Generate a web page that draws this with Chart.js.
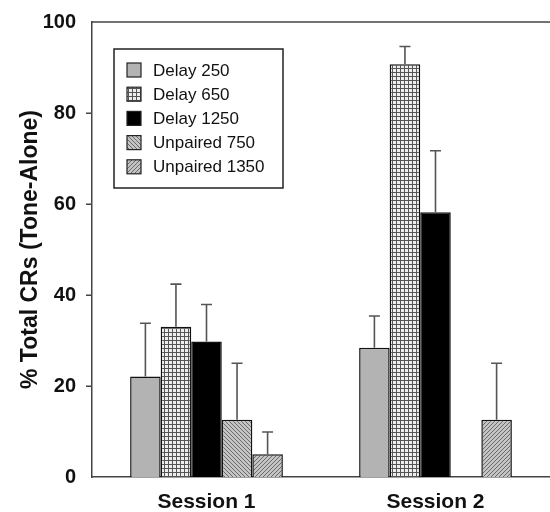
<!DOCTYPE html>
<html>
<head>
<meta charset="utf-8">
<script src="https://cdn.jsdelivr.net/npm/chart.js@4"></script>
<style>
  html, body { margin: 0; padding: 0; background: #ffffff; }
  #wrap { width: 550px; height: 512px; }
</style>
</head>
<body>
<div id="wrap"><canvas id="c" width="550" height="512"></canvas></div>
<script>
// ---- Data ----
const categories = ['Session 1', 'Session 2'];
const seriesNames = ['Delay 250', 'Delay 650', 'Delay 1250', 'Unpaired 750', 'Unpaired 1350'];
const delay250 = [22.1, 28.4];
const delay650 = [33.0, 90.7];
const delay1250 = [29.8, 58.2];
const unpaired750 = [12.6, null];
const unpaired1350 = [5.0, 12.6];
const err250 = [11.7, 7.0];
const err650 = [9.4, 3.9];
const err1250 = [8.1, 13.5];
const errU750 = [12.4, null];
const errU1350 = [4.9, 12.4];
const yTicks = [0, 20, 40, 60, 80, 100];
const yTitle = '% Total CRs (Tone-Alone)';

// ---- Fill patterns ----
function gridPattern() {
  const c = document.createElement('canvas'); c.width = 4; c.height = 4;
  const g = c.getContext('2d');
  g.fillStyle = '#eeeeee'; g.fillRect(0, 0, 4, 4);
  g.fillStyle = '#555555'; g.fillRect(0, 0, 4, 1); g.fillRect(0, 0, 1, 4);
  return g.createPattern(c, 'repeat');
}
function diagPattern(dir, bg, fg) {
  const c = document.createElement('canvas'); c.width = 4; c.height = 4;
  const g = c.getContext('2d');
  g.fillStyle = bg; g.fillRect(0, 0, 4, 4);
  g.fillStyle = fg;
  for (let i = 0; i < 4; i++) {
    g.fillRect(dir > 0 ? i : 3 - i, i, 1, 1);
  }
  return g.createPattern(c, 'repeat');
}
const fills = [
  '#b3b3b3',
  gridPattern(),
  '#000000',
  diagPattern(1, '#c4c4c4', '#6a6a6a'),
  diagPattern(-1, '#c4c4c4', '#6a6a6a')
];
const values = [delay250, delay650, delay1250, unpaired750, unpaired1350];
const errors = [err250, err650, err1250, errU750, errU1350];

const datasets = seriesNames.map((name, i) => ({
  label: name,
  data: values[i],
  backgroundColor: fills[i],
  borderColor: '#111111',
  borderWidth: 1.5,
  errors: errors[i]
}));

// ---- Plugin: error bars, y tick marks, top frame, in-plot legend ----
const extras = {
  id: 'extras',
  afterDatasetsDraw(chart) {
    const ctx = chart.ctx;
    const ys = chart.scales.y;
    chart.data.datasets.forEach((ds, di) => {
      const meta = chart.getDatasetMeta(di);
      meta.data.forEach((bar, i) => {
        const v = ds.data[i], e = ds.errors[i];
        if (v == null || e == null) return;
        const yTop = ys.getPixelForValue(v + e);
        const yBase = ys.getPixelForValue(v);
        ctx.save();
        ctx.strokeStyle = '#555555';
        ctx.lineWidth = 1.6;
        ctx.beginPath();
        ctx.moveTo(bar.x, yBase);
        ctx.lineTo(bar.x, yTop);
        ctx.moveTo(bar.x - 5.5, yTop);
        ctx.lineTo(bar.x + 5.5, yTop);
        ctx.stroke();
        ctx.restore();
      });
    });
  },
  afterDraw(chart) {
    const ctx = chart.ctx;
    const a = chart.chartArea;
    const ys = chart.scales.y;
    ctx.save();
    // y tick marks (outward), skipping the ends
    ctx.strokeStyle = '#444444';
    ctx.lineWidth = 1.5;
    ctx.beginPath();
    yTicks.forEach(v => {
      if (v === 0 || v === 100) return;
      const py = Math.round(ys.getPixelForValue(v)) + 0.25;
      ctx.moveTo(a.left - 6, py);
      ctx.lineTo(a.left, py);
    });
    // top frame line
    ctx.moveTo(a.left, a.top);
    ctx.lineTo(chart.width, a.top);
    ctx.stroke();
    // legend box
    const lx = a.left + 22, ly = a.top + 27, lw = 169, lh = 139;
    ctx.fillStyle = '#ffffff';
    ctx.fillRect(lx, ly, lw, lh);
    ctx.strokeStyle = '#222222';
    ctx.lineWidth = 1.5;
    ctx.strokeRect(lx, ly, lw, lh);
    ctx.font = '17px "Liberation Sans", Arial, sans-serif';
    ctx.textBaseline = 'middle';
    ctx.textAlign = 'left';
    chart.data.datasets.forEach((ds, i) => {
      const cy = ly + 21 + i * 24.2;
      ctx.fillStyle = ds.backgroundColor;
      ctx.fillRect(lx + 13, cy - 7, 14, 14);
      ctx.strokeStyle = '#222222';
      ctx.lineWidth = 1.2;
      ctx.strokeRect(lx + 13, cy - 7, 14, 14);
      ctx.fillStyle = '#111111';
      ctx.fillText(ds.label, lx + 39, cy + 1);
    });
    ctx.restore();
  }
};

new Chart(document.getElementById('c'), {
  type: 'bar',
  data: { labels: categories, datasets },
  plugins: [extras],
  options: {
    responsive: false,
    animation: false,
    devicePixelRatio: 1,
    layout: { padding: { top: 20, left: 0, right: 0, bottom: 0 } },
    plugins: { legend: { display: false }, tooltip: { enabled: false } },
    datasets: { bar: { categoryPercentage: 0.667, barPercentage: 1.0 } },
    scales: {
      x: {
        grid: { display: false, drawTicks: false },
        border: { display: true, color: '#444444', width: 1.5 },
        ticks: {
          padding: 13,
          color: '#111111',
          font: { family: '"Liberation Sans", Arial, sans-serif', size: 21, weight: 'bold' }
        },
        afterFit(s) { s.height = 35; }
      },
      y: {
        min: 0, max: 100,
        afterBuildTicks(s) { s.ticks = yTicks.map(v => ({ value: v })); },
        grid: {
          display: false,
          drawOnChartArea: false,
          drawTicks: true,
          tickLength: 6
        },
        border: { display: true, color: '#444444', width: 1.5 },
        ticks: {
          padding: 10,
          color: '#111111',
          font: { family: '"Liberation Sans", Arial, sans-serif', size: 20, weight: 'bold' }
        },
        title: {
          display: true,
          text: yTitle,
          color: '#111111',
          padding: { top: 17, bottom: 0 },
          font: { family: '"Liberation Sans", Arial, sans-serif', size: 23, weight: 'bold' }
        },
        afterFit(s) { s.width = 92; }
      }
    }
  }
});
</script>
</body>
</html>
